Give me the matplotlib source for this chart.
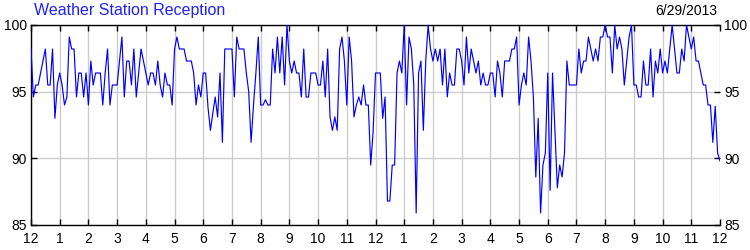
import numpy as np
import matplotlib.pyplot as plt

# reception (%) sampled every 5 minutes, midnight to midnight
h00 = [98.2, 94.6, 95.5, 95.5, 96.4, 97.3, 98.2, 95.5, 95.5, 98.2, 93.0, 95.5]
h01 = [96.4, 95.5, 94.0, 94.6, 99.1, 98.2, 98.2, 94.6, 96.4, 96.4, 94.6, 96.4]
h02 = [94.0, 97.3, 95.5, 96.4, 96.4, 96.4, 94.0, 96.4, 98.2, 94.0, 95.5, 95.5]
h03 = [95.5, 97.3, 99.1, 94.6, 97.3, 97.3, 95.5, 98.2, 94.6, 96.4, 98.2, 97.3]
h04 = [96.4, 95.5, 96.4, 96.4, 95.5, 97.3, 95.5, 94.6, 96.4, 95.5, 95.5, 94.0]
h05 = [98.2, 99.1, 98.2, 98.2, 98.2, 97.3, 97.3, 97.3, 96.4, 94.0, 95.5, 94.6]
h06 = [96.4, 96.4, 93.8, 92.1, 93.4, 94.6, 93.1, 96.4, 91.2, 98.2, 98.2, 98.2]
h07 = [98.2, 94.6, 99.1, 98.2, 98.2, 98.2, 96.4, 95.0, 91.2, 94.0, 96.4, 99.1]
h08 = [94.0, 94.0, 94.4, 94.0, 94.0, 98.2, 96.4, 99.1, 96.4, 99.1, 95.5, 100.0]
h09 = [97.3, 96.4, 97.3, 96.4, 96.4, 94.6, 98.2, 94.6, 94.6, 96.4, 96.4, 96.4]
h10 = [95.5, 95.5, 97.3, 94.6, 98.2, 93.1, 92.1, 93.1, 92.1, 98.2, 99.1, 97.3]
h11 = [94.0, 99.1, 97.3, 93.1, 94.0, 94.6, 94.0, 95.5, 94.0, 94.0, 89.5, 92.0]
h12 = [96.4, 96.4, 96.4, 93.0, 94.6, 86.8, 86.8, 89.5, 89.5, 96.4, 97.3, 96.4]
h13 = [100.0, 94.0, 99.1, 98.2, 95.5, 85.9, 96.4, 97.3, 92.1, 97.3, 100.0, 98.2]
h14 = [97.3, 98.2, 97.3, 98.2, 95.5, 98.2, 94.6, 96.4, 95.5, 95.5, 98.2, 98.2]
h15 = [97.3, 95.5, 99.1, 96.4, 98.2, 97.3, 96.4, 97.3, 95.5, 96.4, 95.5, 95.5]
h16 = [96.4, 96.4, 94.6, 97.3, 96.4, 94.6, 97.3, 97.3, 97.3, 98.2, 98.2, 99.1]
h17 = [94.0, 95.5, 96.4, 95.5, 99.1, 97.3, 94.6, 88.6, 93.0, 85.9, 89.5, 90.4]
h18 = [96.4, 87.6, 96.4, 92.0, 87.8, 89.5, 88.6, 90.4, 97.3, 95.5, 95.5, 95.5]
h19 = [95.5, 98.2, 96.4, 97.3, 97.3, 99.1, 98.2, 97.3, 98.2, 97.3, 99.1, 99.1]
h20 = [100.0, 99.1, 99.1, 96.4, 100.0, 98.2, 99.1, 98.2, 95.5, 97.3, 99.1, 100.0]
h21 = [95.5, 95.5, 94.6, 94.6, 97.3, 95.5, 95.5, 98.2, 94.6, 97.3, 96.4, 98.2]
h22 = [96.4, 97.3, 96.4, 98.2, 100.0, 98.2, 96.4, 96.4, 98.2, 97.3, 100.0, 99.1]
h23 = [98.2, 99.1, 97.3, 97.3, 96.4, 95.5, 95.5, 94.0, 94.0, 91.2, 93.9, 90.4]
h24 = [89.8]

reception = (h00 + h01 + h02 + h03 + h04 + h05 + h06 + h07 + h08 + h09 + h10 + h11 +
             h12 + h13 + h14 + h15 + h16 + h17 + h18 + h19 + h20 + h21 + h22 + h23 + h24)
hours = np.arange(len(reception)) / 12.0

hour_labels = ['12', '1', '2', '3', '4', '5', '6', '7', '8', '9', '10', '11',
               '12', '1', '2', '3', '4', '5', '6', '7', '8', '9', '10', '11', '12']
y_ticks = [85, 90, 95, 100]

plt.rcParams['font.family'] = ['Liberation Sans', 'DejaVu Sans']

fig = plt.figure(figsize=(7.5, 2.5), dpi=100)
ax = fig.add_axes([31 / 750, 25 / 250, 689 / 750, 200 / 250])

ax.plot(hours, reception, color='#0000ff', linewidth=0.85, zorder=3)

ax.set_xlim(0, 24)
ax.set_ylim(85, 100)
ax.set_xticks(range(25))
ax.set_xticklabels(hour_labels)
ax.set_yticks(y_ticks)

ax.grid(True, color='#cccccc', linewidth=1.0, zorder=0)
ax.tick_params(axis='both', direction='in', length=4, width=1, color='black',
               labelsize=10, top=True, right=True, labelright=True)
ax.tick_params(axis='x', pad=5)
ax.tick_params(axis='y', pad=3)
ax.spines['right'].set_visible(False)
for s in ['left', 'top', 'bottom']:
    ax.spines[s].set_linewidth(1.0)

fig.text(34 / 750, 1 - 11 / 250, 'Weather Station Reception', color='#2020ff',
         fontsize=11.5, ha='left', va='center')
fig.text(717 / 750, 1 - 11 / 250, '6/29/2013', color='black',
         fontsize=10, ha='right', va='center')

fig.savefig('out.png', dpi=100)
